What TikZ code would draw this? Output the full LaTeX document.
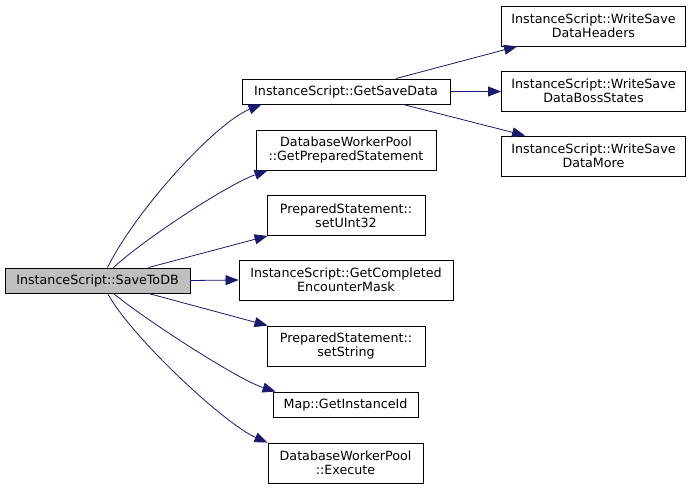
\documentclass[tikz,border=0pt]{standalone}
\usepackage{fontspec}
\setmainfont{DejaVu Sans}
\usetikzlibrary{arrows.meta}
\definecolor{edgeblue}{HTML}{191970}
\begin{document}
\begin{tikzpicture}[x=1pt,y=-1pt,>={Triangle[length=13pt,width=10pt]},
    font=\fontsize{12.7}{14.3}\selectfont,
    fn/.style={draw=black,line width=0.9pt,inner sep=0pt,align=center,fill=white},
    root/.style={fn,fill=black!25},
    edge/.style={->,draw=edgeblue,line width=0.8pt}]
    \useasboundingbox (0,0) rectangle (691,489);
    % caller
    \node[root,minimum width=185,minimum height=25] (save) at (97.5,280.5) {InstanceScript::SaveToDB};
    % called functions
    \node[fn,minimum width=208,minimum height=25] (gsd) at (346,91.5) {InstanceScript::GetSaveData};
    \node[fn,minimum width=180,minimum height=40] (gps) at (346,150) {DatabaseWorkerPool\\::GetPreparedStatement};
    \node[fn,minimum width=158,minimum height=40] (su) at (346,215.5) {PreparedStatement::\\setUInt32};
    \node[fn,minimum width=214,minimum height=40] (gcem) at (346,280) {InstanceScript::GetCompleted\\EncounterMask};
    \node[fn,minimum width=158,minimum height=40] (ss) at (346,346) {PreparedStatement::\\setString};
    \node[fn,minimum width=145,minimum height=25] (gi) at (345.5,404.5) {Map::GetInstanceId};
    \node[fn,minimum width=155,minimum height=40] (ex) at (345.5,463) {DatabaseWorkerPool\\::Execute};
    \node[fn,minimum width=184,minimum height=40] (wh) at (593.5,26) {InstanceScript::WriteSave\\DataHeaders};
    \node[fn,minimum width=184,minimum height=40] (wb) at (593.5,91) {InstanceScript::WriteSave\\DataBossStates};
    \node[fn,minimum width=184,minimum height=40] (wm) at (593.5,156) {InstanceScript::WriteSave\\DataMore};

    \draw[edge] ([xshift=10pt]save.north)..controls +(30,-60) and +(-45,18)..([xshift=20pt]gsd.south west);
    \draw[edge] ([xshift=16pt]save.north)..controls +(30,-28) and +(-40,14)..([xshift=12pt]gps.south west);
    \draw[edge] ([xshift=-42pt]save.north east)--([xshift=1pt]su.south west);
    \draw[edge] (save.east)--(gcem.west);
    \draw[edge] ([xshift=-42pt]save.south east)--([xshift=1pt]ss.north west);
    \draw[edge] ([xshift=16pt]save.south)..controls +(30,25) and +(-38,-12)..([xshift=3pt]gi.north west);
    \draw[edge] ([xshift=10pt]save.south)..controls +(25,45) and +(-42,-18)..(ex.north west);
    \draw[edge] ([xshift=50pt]gsd.north)--([xshift=16pt]wh.south west);
    \draw[edge] (gsd.east)--(wb.west|-gsd.east);
    \draw[edge] ([xshift=57pt]gsd.south)--([xshift=24pt]wm.north west);
\end{tikzpicture}
\end{document}
